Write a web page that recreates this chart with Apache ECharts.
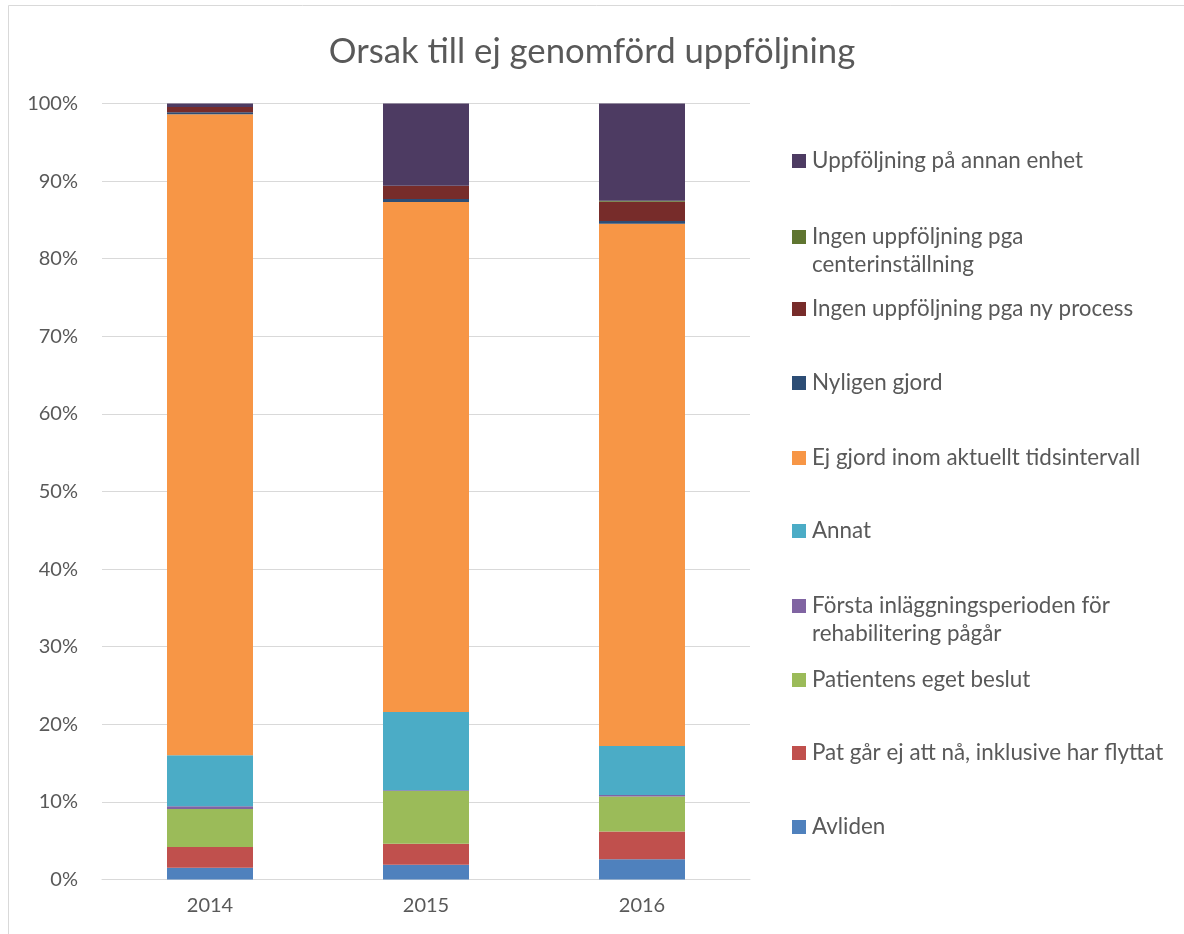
<!DOCTYPE html>
<html><head><meta charset="utf-8">
<script src="https://cdn.jsdelivr.net/npm/echarts@6/dist/echarts.min.js"></script>
<style>html,body{margin:0;padding:0;background:#fff}#c{width:1184px;height:934px}</style>
</head><body><div id="c"></div>
<script>
const categories = ['2014', '2015', '2016'];
const seriesNames = [
  'Avliden',
  'Pat går ej att nå, inklusive har flyttat',
  'Patientens eget beslut',
  'Första inläggningsperioden för\nrehabilitering pågår',
  'Annat',
  'Ej gjord inom aktuellt tidsintervall',
  'Nyligen gjord',
  'Ingen uppföljning pga ny process',
  'Ingen uppföljning pga\ncenterinställning',
  'Uppföljning på annan enhet'
];
const avliden      = [1.5, 1.9, 2.6];
const patGar       = [2.7, 2.7, 3.6];
const patientens   = [4.9, 6.8, 4.5];
const forsta       = [0.35, 0.1, 0.2];
const annat        = [6.55, 10.1, 6.3];
const ejGjord      = [82.6, 65.7, 67.3];
const nyligen      = [0.26, 0.4, 0.35];
const nyProcess    = [0.7, 1.7, 2.5];
const center       = [0, 0, 0.13];
const annanEnhet   = [0.44, 10.6, 12.52];
const yTicks = [0, 10, 20, 30, 40, 50, 60, 70, 80, 90, 100];

const values = [avliden, patGar, patientens, forsta, annat, ejGjord, nyligen, nyProcess, center, annanEnhet];
const colors = ['#4F81BD', '#C0504D', '#9BBB59', '#8064A2', '#4BACC6', '#F79646', '#2C4D75', '#772C2A', '#5F7530', '#4D3B62'];

const font = 'Lato, "Open Sans", sans-serif';
const textColor = '#595959';

// legend: listed top to bottom in reverse series order
const legendOrder = seriesNames.slice().reverse();
const legendFirstLineY = [160, 236, 308, 382, 457, 530, 605, 679, 752, 826];
const LH = 28;
const legends = legendOrder.map((name, i) => {
  const twoLine = name.indexOf('\n') >= 0;
  return {
    left: 787,
    top: legendFirstLineY[i] - (twoLine ? LH * 1.5 : LH / 2) - 4,
    orient: 'vertical',
    icon: 'rect',
    itemWidth: 14,
    itemHeight: 14,
    itemGap: 0,
    selectedMode: false,
    data: [name],
    formatter: twoLine ? (n => ' \n' + n) : (n => n),
    textStyle: {
      fontFamily: font, fontSize: 22.4, color: textColor, lineHeight: LH,
      padding: [0, 0, 0, 1]
    }
  };
});

const chart = echarts.init(document.getElementById('c'), null, {renderer: 'canvas'});
chart.setOption({
  animation: false,
  backgroundColor: '#fff',
  title: {
    text: 'Orsak till ej genomförd uppföljning',
    left: 'center', top: 29,
    textStyle: {fontFamily: font, fontSize: 34.7, fontWeight: 'normal', color: textColor}
  },
  graphic: [{
    type: 'rect', shape: {x: 8.5, y: 5.5, width: 1300, height: 1300},
    style: {fill: null, stroke: '#D9D9D9', lineWidth: 1}, silent: true
  }],
  legend: legends,
  grid: {left: 102, right: 434, top: 103.5, bottom: 54.5, containLabel: false},
  xAxis: {
    type: 'category', data: categories,
    axisLine: {lineStyle: {color: '#D9D9D9'}},
    axisTick: {show: false},
    axisLabel: {fontFamily: font, fontSize: 20, color: textColor, margin: 16}
  },
  yAxis: {
    type: 'value', min: yTicks[0], max: yTicks[yTicks.length - 1], interval: 10,
    axisLine: {show: false}, axisTick: {show: false},
    splitLine: {lineStyle: {color: '#D9D9D9', width: 1}},
    axisLabel: {fontFamily: font, fontSize: 20, color: textColor, margin: 24, formatter: v => v + '%'}
  },
  series: seriesNames.map((name, i) => ({
    name: name, type: 'bar', stack: 'total', barWidth: 86,
    data: values[i],
    itemStyle: {color: colors[i]}
  }))
});
</script></body></html>
